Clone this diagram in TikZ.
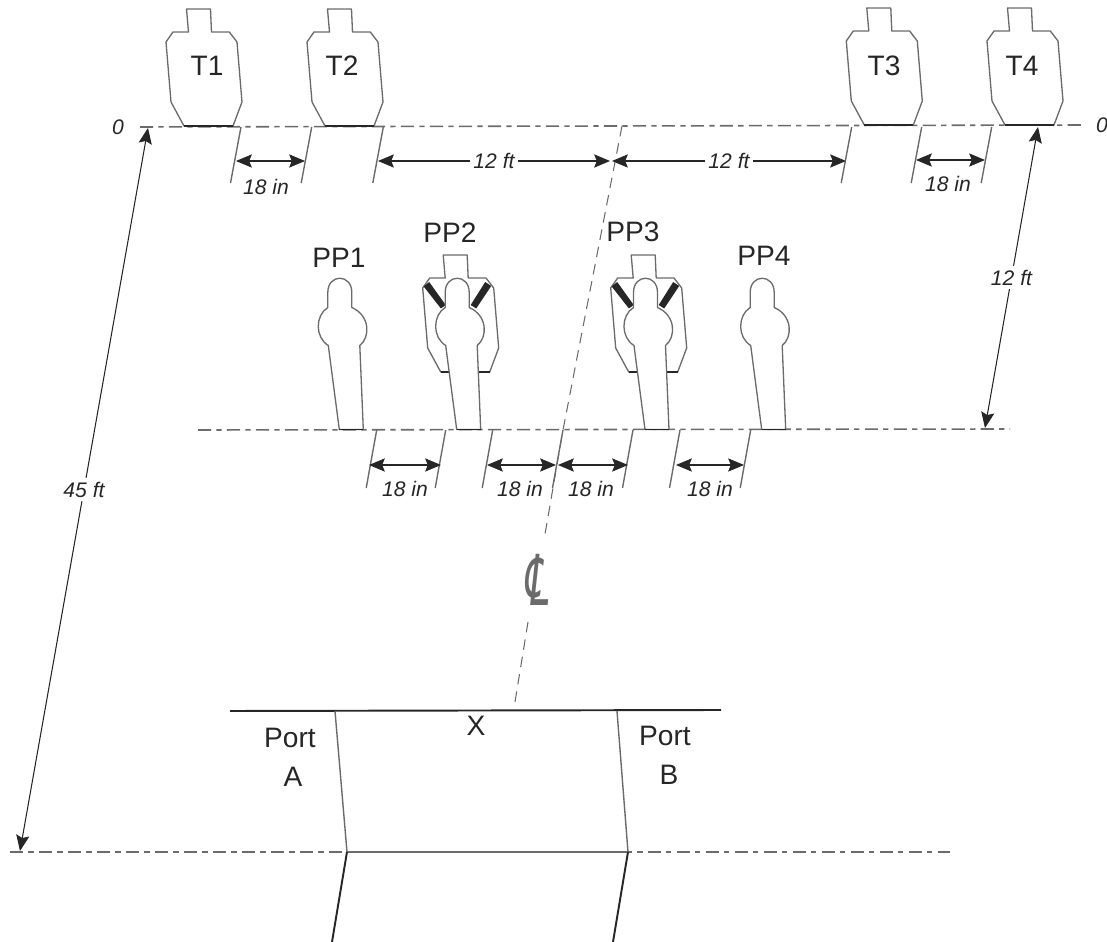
\documentclass[tikz,border=0pt]{standalone}
\usepackage{fontspec}
\setmainfont{Liberation Sans}
\newfontfamily\symfont[FakeSlant=0.2]{DejaVu Sans}
\usepackage{tikz}
\usetikzlibrary{arrows.meta}

\definecolor{inkgray}{gray}{0.42}
\definecolor{inkdark}{gray}{0.15}

\begin{document}
\begin{tikzpicture}[x=0.02cm,y=-0.02cm]
  \useasboundingbox (0,0) rectangle (1107,942);
  \tikzset{outline/.style = {draw=inkgray,line width=0.75pt,line join=round}}
  \tikzset{tick/.style = {draw=inkgray,line width=0.8pt}}
  \tikzset{centerdash/.style = {draw=inkgray,line width=0.6pt,dash pattern=on 6pt off 4pt}}
  \tikzset{rangeline/.style = {draw=inkgray,line width=0.9pt,dash pattern=on 7.5pt off 3pt on 3pt off 3pt}}
  \tikzset{edge/.style = {{Stealth[length=9pt,width=7.5pt,inset=1.5pt]}-{Stealth[length=9pt,width=7.5pt,inset=1.5pt]},draw=inkdark,line width=0.6pt}}
  \tikzset{wall/.style = {draw=inkdark,line width=1.1pt}}
  \tikzset{big/.style = {text=inkdark,font=\fontsize{16}{18}\selectfont,inner sep=0pt}}
  \tikzset{dim/.style = {text=inkdark,font=\fontsize{12}{14}\selectfont\itshape,inner sep=2pt}}
  \tikzset{target/.pic = {
    \path[outline,fill=white] (0,0) -- (-13,-24) -- (-18,-84) -- (-11,-94) -- (4.5,-94) -- (2.5,-117) -- (26.5,-117)
      -- (27.5,-94) -- (45.3,-94) -- (53,-84) -- (58,-24) -- (49,0) -- cycle;
    \draw[inkdark,line width=1pt] (0,0) -- (49,0);}}
  \tikzset{figure/.pic = {
    \path[outline,fill=white] (0,0) -- (-11,-84) .. controls (-24.3,-92) and (-24.3,-114) .. (-11.5,-122)
      -- (-11.5,-137) .. controls (-11.5,-156) and (12.5,-156) .. (12.5,-137) -- (12.5,-122)
      .. controls (31,-114) and (31,-92) .. (20.5,-84) -- (24,0) -- cycle;
    \draw[inkdark,line width=1pt] (0,0) -- (24,0);}}
  \tikzset{bands/.pic = {
    \fill[inkdark] (-17,-85.5) -- (-11.5,-90) -- (5,-67) -- (0.2,-63.5) -- cycle;
    \fill[inkdark] (44.5,-90) -- (50.5,-86) -- (35.5,-63.5) -- (30,-67) -- cycle;}}

  % range lines
  \coordinate (topL) at (140,127);
  \coordinate (topR) at (1085,125);
  \coordinate (midL) at (198,430);
  \coordinate (midR) at (1010,429);
  \coordinate (lowL) at (10,852);
  \coordinate (lowR) at (950,852);
  \draw[rangeline] (topL) -- (topR);
  \draw[rangeline] (midL) -- (midR);
  \draw[rangeline] (lowL) -- (lowR);

  % center line
  \coordinate (clTop) at (622,126);
  \coordinate (clMid) at (563,430);
  \coordinate (clGapA) at (544,540);
  \coordinate (clGapB) at (528,622);
  \coordinate (clEnd) at (514,708);
  \draw[centerdash] (clTop) -- (clMid) -- (clGapA);
  \draw[centerdash] (clGapB) -- (clEnd);
  \node[text=inkgray,font=\fontsize{40}{42}\selectfont\symfont,xscale=0.55,inner sep=0pt] (clMark) at (536,580) {℄};

  % targets
  \foreach \name/\x/\y in {T1/184/126, T2/325/126, T3/864.3/125, T4/1005/125}
    \pic (\name) at (\x,\y) {target};
  \node[big] (T1) at (207,66) {T1};
  \node[big] (T2) at (342,66) {T2};
  \node[big] (T3) at (884,66) {T3};
  \node[big] (T4) at (1022,66) {T4};

  % no-shoot figures
  \pic (back2) at (440.7,372) {target};
  \pic (back3) at (628.7,372) {target};
  \pic (band2) at (440.7,372) {bands};
  \pic (band3) at (628.7,372) {bands};
  \foreach \name/\x in {PP1/339.3, PP2/456.7, PP3/645, PP4/761.7}
    \pic (\name) at (\x,429.5) {figure};
  \node[big] (PP1) at (339,258) {PP1};
  \node[big] (PP2) at (450,233) {PP2};
  \node[big] (PP3) at (633,232) {PP3};
  \node[big] (PP4) at (764,256) {PP4};

  % ticks
  \foreach \i/\x in {a/241, b/311.7, c/383.3, d/851.7, e/921.7, f/991.7}
  {
    \coordinate (\i1) at (\x,127);
    \coordinate (\i2) at (\x-10.5,183);
    \draw[tick] (\i1) -- (\i2);
  }
  \foreach \i/\x in {g/376.7, h/445.7, k/492.7, l/563, m/633, n/680, p/750.7}
  {
    \coordinate (\i1) at (\x,430);
    \coordinate (\i2) at (\x-10.5,488);
    \draw[tick] (\i1) -- (\i2);
  }

  % dimensions
  \coordinate (aA) at (236,161);
  \coordinate (bA) at (305,161);
  \coordinate (cA) at (378,161);
  \coordinate (zL) at (610,161);
  \coordinate (zR) at (612,161);
  \coordinate (dA) at (846,161);
  \coordinate (eA) at (916,160);
  \coordinate (fA) at (985,160);
  \foreach \from/\to in {aA/bA, eA/fA}
    \draw[edge] (\from) -- (\to);
  \draw[edge] (cA) -- node[dim,fill=white] (ftA) {12 ft} (zL);
  \draw[edge] (zR) -- node[dim,fill=white] (ftB) {12 ft} (dA);

  \coordinate (gA) at (369,465);
  \coordinate (hA) at (441,465);
  \coordinate (kA) at (487,465);
  \coordinate (lA) at (556,465);
  \coordinate (lB) at (558,465);
  \coordinate (mA) at (628,465);
  \coordinate (nA) at (676,465);
  \coordinate (pA) at (744,465);
  \foreach \from/\to in {gA/hA, kA/lA, lB/mA, nA/pA}
    \draw[edge] (\from) -- (\to);

  \node[dim] (inA) at (266,187) {18 in};
  \node[dim] (inB) at (948,184) {18 in};
  \node[dim] (inC) at (405,489) {18 in};
  \node[dim] (inD) at (520,489) {18 in};
  \node[dim] (inE) at (591,489) {18 in};
  \node[dim] (inF) at (710,489) {18 in};
  \node[dim] (zeroL) at (118,127) {0};
  \node[dim] (zeroR) at (1102,125) {0};

  \coordinate (longA) at (148,128);
  \coordinate (longB) at (20,851);
  \coordinate (shortA) at (1038,127);
  \coordinate (shortB) at (985,428);
  \draw[edge] (longA) -- node[dim,fill=white,pos=0.5] (ftC) {45 ft} (longB);
  \draw[edge] (shortA) -- node[dim,fill=white,pos=0.5] (ftD) {12 ft} (shortB);

  % shooting box
  \coordinate (barL) at (230,711);
  \coordinate (barR) at (721,710);
  \coordinate (boxA) at (335,711);
  \coordinate (boxB) at (617,711);
  \coordinate (boxC) at (347,852);
  \coordinate (boxD) at (628,852);
  \coordinate (boxE) at (332,942);
  \coordinate (boxF) at (613,942);
  \draw[wall] (barL) -- (barR);
  \draw[tick] (boxA) -- (boxC) (boxB) -- (boxD);
  \draw[tick] (boxC) -- (boxD);
  \draw[wall] (boxC) -- (boxE);
  \draw[wall] (boxD) -- (boxF);
  \node[big] (mark) at (476,726) {X};
  \node[big] (portA) at (290,738) {Port};
  \node[big] (labA) at (293,777) {A};
  \node[big] (portB) at (665,736) {Port};
  \node[big] (labB) at (669,775) {B};
\end{tikzpicture}
\end{document}
